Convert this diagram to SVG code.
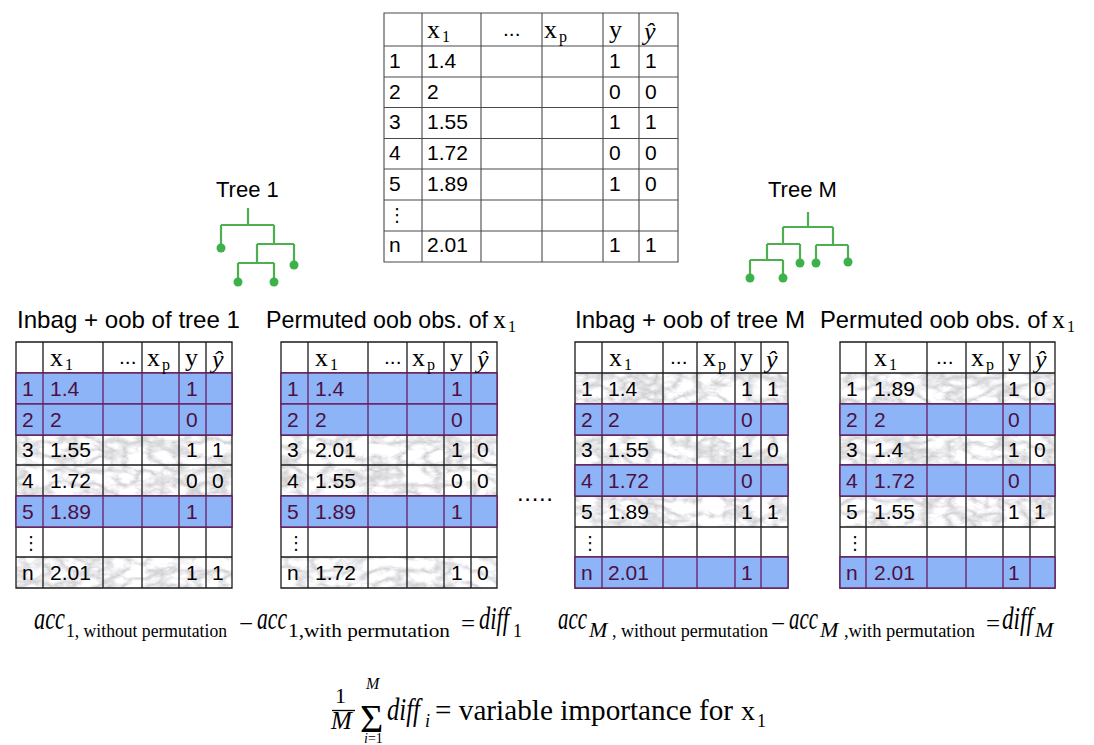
<svg xmlns="http://www.w3.org/2000/svg" width="1094" height="745" viewBox="0 0 1094 745">
<style>
.sans{font-family:"Liberation Sans",Arial,sans-serif}
.cell{font-family:"Liberation Sans",Arial,sans-serif;font-size:21px;fill:#000}
.title{font-family:"Liberation Sans",Arial,sans-serif;font-size:24px;fill:#000}
.ser{font-family:"Liberation Serif","Times New Roman",serif;fill:#000}
.hx{font-size:26px}
.sub{font-size:16px}
.it{font-style:italic}
.pu{fill:#4d0f45}
.vd{font-family:"DejaVu Sans",sans-serif;font-size:18px;fill:#000}
.grid{fill:none;stroke:#1a1a1a;stroke-width:1.3}
.tgrid{fill:none;stroke:#4a4a4a;stroke-width:1.1}
.blue{fill:#8db4f6;stroke:#6b1d63;stroke-width:1.4}
.pl{fill:none;stroke:#6b1d63;stroke-width:1.3}
.white{fill:#fff}
.tree{fill:none;stroke:#4caf50;stroke-width:2.2}
.leaf{fill:#3db24a}
.fm{font-family:"Liberation Serif","Times New Roman",serif;fill:#000}
</style>
<defs>
<filter id="marble" x="0" y="0" width="1" height="1" color-interpolation-filters="sRGB">
<feTurbulence type="turbulence" baseFrequency="0.04 0.07" numOctaves="4" seed="7"/>
<feColorMatrix type="matrix" values="0.5 0 0 0 0.79  0.5 0 0 0 0.79  0.5 0 0 0 0.8  0 0 0 0 1"/>
</filter>
</defs>
<rect width="1094" height="745" fill="#fff"/>

<g id="connectors"></g>

<g id="table-full">
<rect x="384" y="13" width="294" height="249" class="white"/>
<path class="tgrid" d="M384 13H678V262H384Z M422 13V262 M481 13V262 M542 13V262 M603 13V262 M639 13V262 M384 46H678 M384 77H678 M384 107.5H678 M384 138.5H678 M384 169H678 M384 200H678 M384 231H678"/>
<text class="ser hx" x="427" y="38">x</text><text class="ser sub" x="442" y="42">1</text>
<text class="cell" x="503" y="36">...</text>
<text class="ser hx" x="544" y="38">x</text><text class="ser sub" x="559" y="42">p</text>
<text class="ser hx" x="609" y="38">y</text>
<text class="ser hx it" x="644" y="40">ŷ</text>
<text class="cell" x="389" y="68">1</text><text class="cell" x="427" y="68">1.4</text><text class="cell" x="609" y="68">1</text><text class="cell" x="645" y="68">1</text>
<text class="cell" x="389" y="99">2</text><text class="cell" x="427" y="99">2</text><text class="cell" x="609" y="99">0</text><text class="cell" x="645" y="99">0</text>
<text class="cell" x="389" y="129">3</text><text class="cell" x="427" y="129">1.55</text><text class="cell" x="609" y="129">1</text><text class="cell" x="645" y="129">1</text>
<text class="cell" x="389" y="160">4</text><text class="cell" x="427" y="160">1.72</text><text class="cell" x="609" y="160">0</text><text class="cell" x="645" y="160">0</text>
<text class="cell" x="389" y="191">5</text><text class="cell" x="427" y="191">1.89</text><text class="cell" x="609" y="191">1</text><text class="cell" x="645" y="191">0</text>
<text class="vd" x="388" y="221">⋮</text>
<text class="cell" x="389" y="252">n</text><text class="cell" x="427" y="252">2.01</text><text class="cell" x="609" y="252">1</text><text class="cell" x="645" y="252">1</text>
</g>

<g id="tree-1">
<text class="sans" font-size="22" x="216" y="197">Tree 1</text>
<path class="tree" d="M248 208V225 M221 225H274 M221 225V248 M274 225V244 M257 244H294 M294 244V265 M257 244V263 M238 263H274 M238 263V282 M274 263V282"/>
<circle class="leaf" cx="221" cy="248" r="4.5"/><circle class="leaf" cx="238" cy="282" r="4.5"/><circle class="leaf" cx="274" cy="282" r="4.5"/><circle class="leaf" cx="294" cy="265" r="4.5"/>
</g>

<g id="tree-M">
<text class="sans" font-size="22" x="768" y="197">Tree M</text>
<path class="tree" d="M808 212V227 M783 227H833 M783 227V244 M767 244H800 M800 244V263 M767 244V260 M750 260H783 M750 260V278 M783 260V278 M833 227V245 M816 245H848 M816 245V263 M848 245V262"/>
<circle class="leaf" cx="750" cy="278" r="4.5"/><circle class="leaf" cx="783" cy="278" r="4.5"/><circle class="leaf" cx="800" cy="263" r="4.5"/><circle class="leaf" cx="816" cy="263" r="4.5"/><circle class="leaf" cx="848" cy="262" r="4.5"/>
</g>

<g id="table-1">
<text class="title" x="17" y="328" textLength="223" lengthAdjust="spacingAndGlyphs">Inbag + oob of tree 1</text>
<rect x="16" y="342" width="216" height="246" class="white"/>
<rect x="16" y="435" width="216" height="30" filter="url(#marble)"/>
<rect x="16" y="465" width="216" height="31" filter="url(#marble)"/>
<rect x="16" y="557" width="216" height="31" filter="url(#marble)"/>
<path class="grid" d="M16 342H232V588H16Z M43 342V588 M103 342V588 M142 342V588 M179 342V588 M206 342V588 M16 373H232 M16 404H232 M16 435H232 M16 465H232 M16 496H232 M16 527H232 M16 557H232"/>
<rect class="blue" x="16" y="373" width="216" height="31"/>
<rect class="blue" x="16" y="404" width="216" height="31"/>
<rect class="blue" x="16" y="496" width="216" height="31"/>
<path class="pl" d="M43 373V435 M103 373V435 M142 373V435 M179 373V435 M206 373V435 M43 496V527 M103 496V527 M142 496V527 M179 496V527 M206 496V527"/>
<text class="ser hx" x="50" y="366">x</text><text class="ser sub" x="65" y="370">1</text>
<text class="cell" x="119" y="364">...</text>
<text class="ser hx" x="147" y="366">x</text><text class="ser sub" x="162" y="370">p</text>
<text class="ser hx" x="185" y="366">y</text>
<text class="ser hx it" x="212" y="368">ŷ</text>
<text class="cell pu" x="22" y="396">1</text><text class="cell pu" x="50" y="396">1.4</text><text class="cell pu" x="186" y="396">1</text>
<text class="cell pu" x="22" y="427">2</text><text class="cell pu" x="50" y="427">2</text><text class="cell pu" x="186" y="427">0</text>
<text class="cell" x="22" y="457">3</text><text class="cell" x="50" y="457">1.55</text><text class="cell" x="186" y="457">1</text><text class="cell" x="212" y="457">1</text>
<text class="cell" x="22" y="488">4</text><text class="cell" x="50" y="488">1.72</text><text class="cell" x="186" y="488">0</text><text class="cell" x="212" y="488">0</text>
<text class="cell pu" x="22" y="519">5</text><text class="cell pu" x="50" y="519">1.89</text><text class="cell pu" x="186" y="519">1</text>
<text class="vd" x="22" y="549">⋮</text>
<text class="cell" x="22" y="580">n</text><text class="cell" x="50" y="580">2.01</text><text class="cell" x="186" y="580">1</text><text class="cell" x="212" y="580">1</text>
</g>

<g id="table-2">
<text class="title" x="266" y="328" textLength="222" lengthAdjust="spacingAndGlyphs">Permuted oob obs. of</text>
<text class="ser hx" x="493" y="328">x</text><text class="ser sub" x="508" y="332">1</text>
<rect x="281" y="342" width="216" height="246" class="white"/>
<rect x="281" y="435" width="216" height="30" filter="url(#marble)"/>
<rect x="281" y="465" width="216" height="31" filter="url(#marble)"/>
<rect x="281" y="557" width="216" height="31" filter="url(#marble)"/>
<path class="grid" d="M281 342H497V588H281Z M308 342V588 M368 342V588 M407 342V588 M444 342V588 M471 342V588 M281 373H497 M281 404H497 M281 435H497 M281 465H497 M281 496H497 M281 527H497 M281 557H497"/>
<rect class="blue" x="281" y="373" width="216" height="31"/>
<rect class="blue" x="281" y="404" width="216" height="31"/>
<rect class="blue" x="281" y="496" width="216" height="31"/>
<path class="pl" d="M308 373V435 M368 373V435 M407 373V435 M444 373V435 M471 373V435 M308 496V527 M368 496V527 M407 496V527 M444 496V527 M471 496V527"/>
<text class="ser hx" x="315" y="366">x</text><text class="ser sub" x="330" y="370">1</text>
<text class="cell" x="384" y="364">...</text>
<text class="ser hx" x="412" y="366">x</text><text class="ser sub" x="427" y="370">p</text>
<text class="ser hx" x="450" y="366">y</text>
<text class="ser hx it" x="477" y="368">ŷ</text>
<text class="cell pu" x="287" y="396">1</text><text class="cell pu" x="315" y="396">1.4</text><text class="cell pu" x="451" y="396">1</text>
<text class="cell pu" x="287" y="427">2</text><text class="cell pu" x="315" y="427">2</text><text class="cell pu" x="451" y="427">0</text>
<text class="cell" x="287" y="457">3</text><text class="cell" x="315" y="457">2.01</text><text class="cell" x="451" y="457">1</text><text class="cell" x="477" y="457">0</text>
<text class="cell" x="287" y="488">4</text><text class="cell" x="315" y="488">1.55</text><text class="cell" x="451" y="488">0</text><text class="cell" x="477" y="488">0</text>
<text class="cell pu" x="287" y="519">5</text><text class="cell pu" x="315" y="519">1.89</text><text class="cell pu" x="451" y="519">1</text>
<text class="vd" x="287" y="549">⋮</text>
<text class="cell" x="287" y="580">n</text><text class="cell" x="315" y="580">1.72</text><text class="cell" x="451" y="580">1</text><text class="cell" x="477" y="580">0</text>
</g>

<g id="ellipsis">
<text class="sans" font-size="24" x="517" y="501" textLength="36" lengthAdjust="spacing">.....</text>
</g>

<g id="table-3">
<text class="title" x="575" y="328" textLength="230" lengthAdjust="spacingAndGlyphs">Inbag + oob of tree M</text>
<rect x="575" y="342" width="213" height="246" class="white"/>
<rect x="575" y="373" width="213" height="31" filter="url(#marble)"/>
<rect x="575" y="435" width="213" height="30" filter="url(#marble)"/>
<rect x="575" y="496" width="213" height="31" filter="url(#marble)"/>
<path class="grid" d="M575 342H788V588H575Z M602 342V588 M663 342V588 M697 342V588 M735 342V588 M761 342V588 M575 373H788 M575 404H788 M575 435H788 M575 465H788 M575 496H788 M575 527H788 M575 557H788"/>
<rect class="blue" x="575" y="404" width="213" height="31"/>
<rect class="blue" x="575" y="465" width="213" height="31"/>
<rect class="blue" x="575" y="557" width="213" height="31"/>
<path class="pl" d="M602 404V435 M663 404V435 M697 404V435 M735 404V435 M761 404V435 M602 465V496 M663 465V496 M697 465V496 M735 465V496 M761 465V496 M602 557V588 M663 557V588 M697 557V588 M735 557V588 M761 557V588"/>
<text class="ser hx" x="609" y="366">x</text><text class="ser sub" x="624" y="370">1</text>
<text class="cell" x="670" y="364">...</text>
<text class="ser hx" x="703" y="366">x</text><text class="ser sub" x="718" y="370">p</text>
<text class="ser hx" x="740" y="366">y</text>
<text class="ser hx it" x="766" y="368">ŷ</text>
<text class="cell" x="581" y="396">1</text><text class="cell" x="608" y="396">1.4</text><text class="cell" x="741" y="396">1</text><text class="cell" x="767" y="396">1</text>
<text class="cell pu" x="581" y="427">2</text><text class="cell pu" x="608" y="427">2</text><text class="cell pu" x="741" y="427">0</text>
<text class="cell" x="581" y="457">3</text><text class="cell" x="608" y="457">1.55</text><text class="cell" x="741" y="457">1</text><text class="cell" x="767" y="457">0</text>
<text class="cell pu" x="581" y="488">4</text><text class="cell pu" x="608" y="488">1.72</text><text class="cell pu" x="741" y="488">0</text>
<text class="cell" x="581" y="519">5</text><text class="cell" x="608" y="519">1.89</text><text class="cell" x="741" y="519">1</text><text class="cell" x="767" y="519">1</text>
<text class="vd" x="581" y="549">⋮</text>
<text class="cell pu" x="581" y="580">n</text><text class="cell pu" x="608" y="580">2.01</text><text class="cell pu" x="741" y="580">1</text>
</g>

<g id="table-4">
<text class="title" x="820" y="328" textLength="227" lengthAdjust="spacingAndGlyphs">Permuted oob obs. of</text>
<text class="ser hx" x="1052" y="328">x</text><text class="ser sub" x="1067" y="332">1</text>
<rect x="840" y="342" width="215" height="246" class="white"/>
<rect x="840" y="373" width="215" height="31" filter="url(#marble)"/>
<rect x="840" y="435" width="215" height="30" filter="url(#marble)"/>
<rect x="840" y="496" width="215" height="31" filter="url(#marble)"/>
<path class="grid" d="M840 342H1055V588H840Z M866 342V588 M927 342V588 M966 342V588 M1003 342V588 M1030 342V588 M840 373H1055 M840 404H1055 M840 435H1055 M840 465H1055 M840 496H1055 M840 527H1055 M840 557H1055"/>
<rect class="blue" x="840" y="404" width="215" height="31"/>
<rect class="blue" x="840" y="465" width="215" height="31"/>
<rect class="blue" x="840" y="557" width="215" height="31"/>
<path class="pl" d="M866 404V435 M927 404V435 M966 404V435 M1003 404V435 M1030 404V435 M866 465V496 M927 465V496 M966 465V496 M1003 465V496 M1030 465V496 M866 557V588 M927 557V588 M966 557V588 M1003 557V588 M1030 557V588"/>
<text class="ser hx" x="874" y="366">x</text><text class="ser sub" x="889" y="370">1</text>
<text class="cell" x="936" y="364">...</text>
<text class="ser hx" x="971" y="366">x</text><text class="ser sub" x="986" y="370">p</text>
<text class="ser hx" x="1008" y="366">y</text>
<text class="ser hx it" x="1035" y="368">ŷ</text>
<text class="cell" x="846" y="396">1</text><text class="cell" x="874" y="396">1.89</text><text class="cell" x="1008" y="396">1</text><text class="cell" x="1034" y="396">0</text>
<text class="cell pu" x="846" y="427">2</text><text class="cell pu" x="874" y="427">2</text><text class="cell pu" x="1008" y="427">0</text>
<text class="cell" x="846" y="457">3</text><text class="cell" x="874" y="457">1.4</text><text class="cell" x="1008" y="457">1</text><text class="cell" x="1034" y="457">0</text>
<text class="cell pu" x="846" y="488">4</text><text class="cell pu" x="874" y="488">1.72</text><text class="cell pu" x="1008" y="488">0</text>
<text class="cell" x="846" y="519">5</text><text class="cell" x="874" y="519">1.55</text><text class="cell" x="1008" y="519">1</text><text class="cell" x="1034" y="519">1</text>
<text class="vd" x="846" y="549">⋮</text>
<text class="cell pu" x="846" y="580">n</text><text class="cell pu" x="874" y="580">2.01</text><text class="cell pu" x="1008" y="580">1</text>
</g>

<g id="formula-1">
<text class="fm it" font-size="31" x="34" y="629" textLength="31" lengthAdjust="spacingAndGlyphs">acc</text>
<text class="fm" font-size="18" x="66" y="637" textLength="161" lengthAdjust="spacingAndGlyphs">1, without permutation</text>
<text class="fm" font-size="25" x="239" y="632">−</text>
<text class="fm it" font-size="31" x="257" y="629" textLength="30" lengthAdjust="spacingAndGlyphs">acc</text>
<text class="fm" font-size="18" x="288" y="637" textLength="162" lengthAdjust="spacingAndGlyphs">1,with permutation</text>
<text class="fm" font-size="25" x="461" y="632">=</text>
<text class="fm it" font-size="31" x="479" y="629" textLength="30" lengthAdjust="spacingAndGlyphs">diff</text>
<text class="fm" font-size="18" x="513" y="637">1</text>
</g>

<g id="formula-M">
<text class="fm it" font-size="31" x="558" y="629" textLength="29" lengthAdjust="spacingAndGlyphs">acc</text>
<text class="fm it" font-size="22" x="589" y="637">M</text>
<text class="fm" font-size="18" x="612" y="637" textLength="156" lengthAdjust="spacingAndGlyphs">, without permutation</text>
<text class="fm" font-size="25" x="771" y="632">−</text>
<text class="fm it" font-size="31" x="789" y="629" textLength="29" lengthAdjust="spacingAndGlyphs">acc</text>
<text class="fm it" font-size="22" x="820" y="637">M</text>
<text class="fm" font-size="18" x="844" y="637" textLength="131" lengthAdjust="spacingAndGlyphs">,with permutation</text>
<text class="fm" font-size="25" x="986" y="632">=</text>
<text class="fm it" font-size="31" x="1002" y="629" textLength="31" lengthAdjust="spacingAndGlyphs">diff</text>
<text class="fm it" font-size="22" x="1035" y="637">M</text>
</g>

<g id="formula-vi">
<text class="fm" font-size="22" x="335" y="703">1</text>
<path d="M332 710.5H355" stroke="#000" stroke-width="1.3"/>
<text class="fm it" font-size="25" x="331" y="729">M</text>
<text class="fm it" font-size="16" x="366" y="689">M</text>
<text class="fm" font-size="40" x="360" y="732">Σ</text>
<text class="fm" font-size="14" x="364" y="743"><tspan font-style="italic">i</tspan>=1</text>
<text class="fm it" font-size="31" x="387" y="720" textLength="33" lengthAdjust="spacingAndGlyphs">diff</text>
<text class="fm it" font-size="18" x="425" y="727">i</text>
<text class="fm" font-size="30" x="435" y="720" textLength="298" lengthAdjust="spacingAndGlyphs">= variable importance for</text>
<text class="fm" font-size="28" x="741" y="720">x</text>
<text class="fm" font-size="18" x="757" y="727">1</text>
</g>
</svg>
